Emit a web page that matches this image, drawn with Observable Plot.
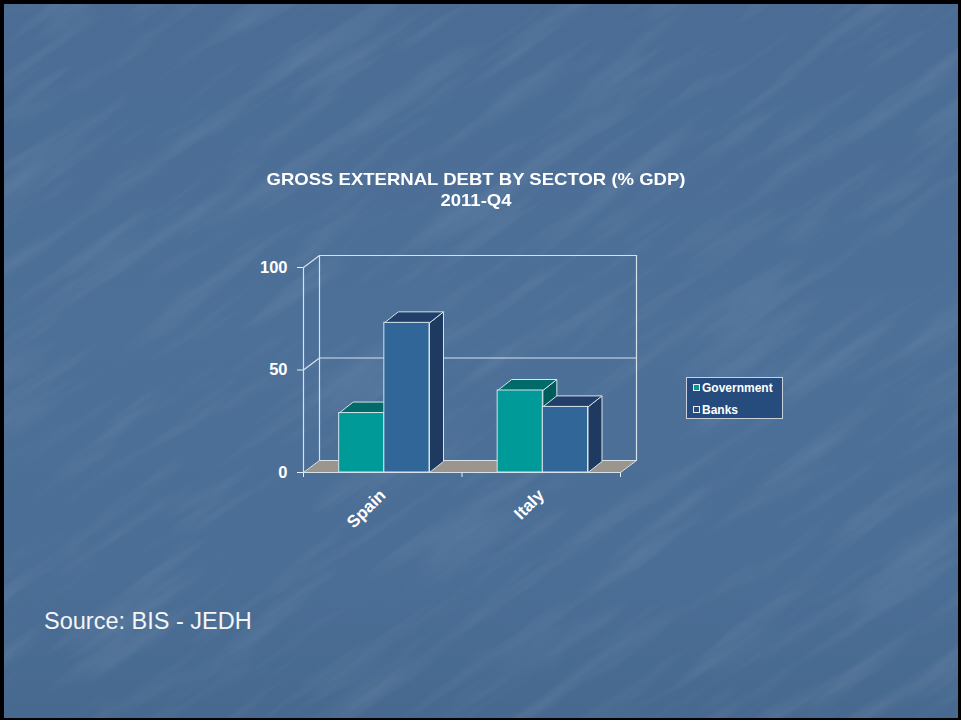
<!DOCTYPE html>
<html>
<head>
<meta charset="utf-8">
<script src="https://cdn.jsdelivr.net/npm/d3@7"></script>
<script src="https://cdn.jsdelivr.net/npm/@observablehq/plot@0.6"></script>
<style>
  html, body { margin: 0; padding: 0; background: #4b6d95; }
  #page {
    position: relative; width: 961px; height: 720px; overflow: hidden;
    background: linear-gradient(180deg, #4b6d95 0%, #4d7098 45%, #4b6e96 80%, #47698f 100%);
    font-family: "Liberation Sans", Arial, sans-serif;
  }
  #texture { position: absolute; left: -200px; top: -200px; width: 1361px; height: 1120px;
    transform: rotate(-35deg); opacity: 0.11; pointer-events: none; }
  #frame { position: absolute; left: 0; top: 0; width: 961px; height: 720px;
    box-shadow: inset 4px 4px 0 #000, inset -3px -2px 0 #000; pointer-events: none; }
  #chart { position: absolute; left: 0; top: 0; }
  .title { position: absolute; left: 226px; width: 500px; text-align: center; color: #fff;
    font-weight: bold; font-size: 17px; line-height: 20px; white-space: nowrap;
    transform: scaleX(1.09); transform-origin: 250px 0; }
  #legend { position: absolute; left: 686px; top: 377px; width: 95px; height: 40px;
    background: #264c7d; border: 1px solid #c9d0da; color: #fff; font-weight: bold; font-size: 12px; }
  .lg { position: absolute; left: 6px; white-space: nowrap; line-height: 14px; }
  .sw { display: inline-block; width: 5px; height: 5px; border: 1px solid #e8eef4; margin-right: 2px; vertical-align: 1px; }
  #source { position: absolute; left: 44px; top: 607px; color: #f4f6f8; font-size: 23.5px; line-height: 28px; }
</style>
</head>
<body>
<div id="page">
  <svg id="texture" viewBox="0 0 1361 1120">
    <filter id="tx"><feTurbulence type="fractalNoise" baseFrequency="0.006 0.045" numOctaves="4" seed="3"/>
      <feColorMatrix type="matrix" values="0 0 0 0 1  0 0 0 0 1  0 0 0 0 1  1.6 0 0 0 -0.75"/></filter>
    <rect width="1361" height="1120" filter="url(#tx)"/>
  </svg>
  <div id="chart"></div>
  <div class="title" id="t1" style="top:170px"></div>
  <div class="title" id="t2" style="top:191px"></div>
  <div id="legend"></div>
  <div id="source"></div>
  <div id="frame"></div>
</div>
<script>
// ---- data ----
const categories = ["Spain", "Italy"];
const seriesNames = ["Government", "Banks"];
const government = [29, 40];
const banks = [73, 32];
const yTicks = [0, 50, 100];
const titleText = "GROSS EXTERNAL DEBT BY SECTOR (% GDP)";
const subtitleText = "2011-Q4";
const sourceText = "Source: BIS - JEDH";

// ---- styles / layout ----
const seriesValues = [government, banks];
const frontColors = ["#009a98", "#316699"];
const topColors = ["#006b69", "#213f68"];
const sideColors = ["#005c5b", "#1e3a61"];
const edge = "#d6e2ea";
const W = 961, H = 720, mL = 303, mR = 341, mT = 267, mB = 248;
const pxX = (W - mL - mR) / categories.length;
const pxY = (H - mT - mB) / 100;
const DX = 16 / pxX, DY = 12 / pxY;   // wall depth in data units
const BX = 14 / pxX, BY = 11 / pxY;   // bar depth in data units
const barStart = 0.225, barW = 0.285;

// bars
const fronts = [[], []], tops = [[], []], sides = [[], []];
categories.forEach((c, i) => {
  seriesValues.forEach((vals, j) => {
    const v = vals[i];
    const x1 = i + barStart + j * barW, x2 = x1 + barW;
    const id = c + "-" + j;
    fronts[j].push({x1, x2, y1: 0, y2: v});
    [[x1, v], [x2, v], [x2 + BX, v + BY], [x1 + BX, v + BY], [x1, v]]
      .forEach(([x, y]) => tops[j].push({id, x, y}));
    [[x2, 0], [x2 + BX, BY], [x2 + BX, v + BY], [x2, v], [x2, 0]]
      .forEach(([x, y]) => sides[j].push({id, x, y}));
  });
});

const xMax = categories.length;
const floor = [[0, 0], [xMax, 0], [xMax + DX, DY], [DX, DY], [0, 0]].map(([x, y]) => ({id: "floor", x, y}));
const wallLines = [];
yTicks.slice(1).forEach(t => {
  [[0, t], [DX, t + DY], [xMax + DX, t + DY]].forEach(([x, y]) => wallLines.push({id: "g" + t, x, y}));
});
[[DX, DY], [DX, 100 + DY]].forEach(([x, y]) => wallLines.push({id: "left", x, y}));
[[xMax + DX, DY], [xMax + DX, 100 + DY]].forEach(([x, y]) => wallLines.push({id: "right", x, y}));

const marks = [
  Plot.line(floor, {x: "x", y: "y", z: "id", fill: "#9b958d", stroke: edge, strokeWidth: 1}),
  Plot.line(wallLines, {x: "x", y: "y", z: "id", stroke: edge, strokeWidth: 1.2}),
  Plot.ruleY([0], {stroke: edge, strokeWidth: 1.2}),
  Plot.ruleX([0], {y1: 0, y2: 100, stroke: edge, strokeWidth: 1.2})
];
[0, 1].forEach(j => {
  marks.push(Plot.line(sides[j], {x: "x", y: "y", z: "id", fill: sideColors[j], stroke: edge, strokeWidth: 1, strokeLinejoin: "round"}));
  marks.push(Plot.line(tops[j], {x: "x", y: "y", z: "id", fill: topColors[j], stroke: edge, strokeWidth: 1, strokeLinejoin: "round"}));
  marks.push(Plot.rect(fronts[j], {x1: "x1", x2: "x2", y1: "y1", y2: "y2", fill: frontColors[j], stroke: edge, strokeWidth: 1}));
});
marks.push(Plot.text(categories, {x: (d, i) => i + 0.5, y: 0, text: d => d, rotate: -45, textAnchor: "end",
  dx: 0, dy: 20, fill: "#ffffff", fontSize: 17, fontWeight: "bold"}));

const chart = Plot.plot({
  width: W, height: H,
  marginLeft: mL, marginRight: mR, marginTop: mT, marginBottom: mB,
  style: {background: "transparent", color: "#e6edf3", fontFamily: "'Liberation Sans', Arial, sans-serif",
    fontSize: "16.5px", fontWeight: "bold", overflow: "visible"},
  x: {domain: [0, xMax], ticks: xMax, tickSize: 5, tickFormat: () => "", label: null},
  y: {domain: [0, 100], ticks: yTicks.length - 1, tickSize: 6, tickPadding: 10, label: null},
  marks
});
chart.querySelectorAll("g[aria-label='y-axis tick label'] text, g[aria-label='y-axis'] text").forEach(t => t.setAttribute("fill", "#ffffff"));
document.getElementById("chart").appendChild(chart);

document.getElementById("t1").textContent = titleText;
document.getElementById("t2").textContent = subtitleText;
document.getElementById("source").textContent = sourceText;
const lg = document.getElementById("legend");
seriesNames.forEach((s, j) => {
  const d = document.createElement("div");
  d.className = "lg";
  d.style.top = (j === 0 ? 3 : 25) + "px";
  d.innerHTML = `<span class="sw" style="background:${j === 0 ? frontColors[0] : "#264c7d"}"></span>${s}`;
  lg.appendChild(d);
});
</script>
</body>
</html>
